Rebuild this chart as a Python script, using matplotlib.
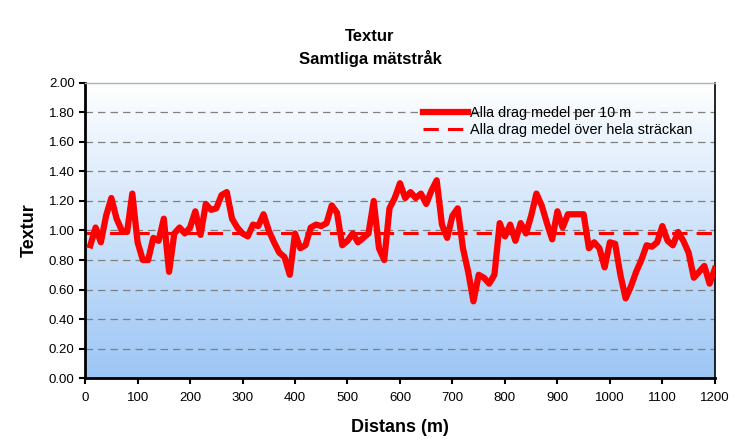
import numpy as np
import matplotlib
matplotlib.use("Agg")
import matplotlib.pyplot as plt
from matplotlib.colors import LinearSegmentedColormap

plt.rcParams["font.family"] = ["Liberation Sans", "DejaVu Sans"]

# Distans (m), every 10 m
distans = list(range(10, 1210, 10))
textur = [
    0.90, 1.02, 0.92, 1.10, 1.22, 1.08, 1.00, 0.99, 1.25, 0.92,
    0.80, 0.80, 0.95, 0.93, 1.08, 0.72, 0.98, 1.02, 0.98, 1.02,
    1.13, 0.97, 1.18, 1.14, 1.15, 1.24, 1.26, 1.08, 1.02, 0.98,
    0.96, 1.04, 1.03, 1.11, 1.00, 0.92, 0.85, 0.82, 0.70, 0.98,
    0.88, 0.90, 1.02, 1.04, 1.03, 1.05, 1.17, 1.12, 0.90, 0.93,
    0.98, 0.92, 0.95, 0.98, 1.20, 0.88, 0.80, 1.15, 1.22, 1.32,
    1.22, 1.26, 1.22, 1.25, 1.18, 1.27, 1.34, 1.04, 0.95, 1.10,
    1.15, 0.88, 0.72, 0.52, 0.70, 0.68, 0.64, 0.70, 1.05, 0.96,
    1.04, 0.93, 1.05, 0.98, 1.10, 1.25, 1.17, 1.05, 0.94, 1.13,
    1.02, 1.11, 1.11, 1.11, 1.11, 0.88, 0.92, 0.88, 0.75, 0.92,
    0.91, 0.70, 0.54, 0.62, 0.72, 0.80, 0.90, 0.89, 0.92, 1.03,
    0.93, 0.90, 0.99, 0.93, 0.85, 0.68, 0.72, 0.76, 0.64, 0.74,
]
medel_hela = 0.98

y_ticks = [0.0, 0.2, 0.4, 0.6, 0.8, 1.0, 1.2, 1.4, 1.6, 1.8, 2.0]
x_ticks = list(range(0, 1300, 100))

fig = plt.figure(figsize=(7.4, 4.48), dpi=100)
ax = fig.add_axes([0.115, 0.156, 0.851, 0.659])

# gradient background, white at top to light blue at bottom
cmap = LinearSegmentedColormap.from_list("bg", ["#9cc6f5", "#ffffff"])
grad = np.linspace(0, 1, 256).reshape(-1, 1)
ax.imshow(grad, cmap=cmap, aspect="auto", origin="lower",
          extent=[0, 1200, 0, 2.0], zorder=0)

for y in y_ticks[1:-1]:
    ax.axhline(y, color="#808080", lw=0.9, ls=(0, (6, 4)), zorder=1)

ax.plot(distans, textur, color="#ff0000", lw=4.5, solid_joinstyle="round",
        zorder=3, label="Alla drag medel per 10 m")
ax.axhline(medel_hela, color="#ff0000", lw=2.2, ls=(0, (5, 3)), zorder=2,
           label="Alla drag medel över hela sträckan")

ax.set_xlim(0, 1200)
ax.set_ylim(0, 2.0)
ax.set_xticks(x_ticks)
ax.set_yticks(y_ticks)
ax.set_yticklabels([f"{v:.2f}" for v in y_ticks])
ax.tick_params(axis="both", direction="out", length=4, width=1.5,
               labelsize=9.5, colors="black")
ax.tick_params(axis="x", pad=6)

for side in ["left", "bottom"]:
    ax.spines[side].set_linewidth(2)
ax.spines["right"].set_linewidth(1.2)
ax.spines["top"].set_linewidth(1.0)
ax.spines["top"].set_color("#b0b0b0")

ax.set_xlabel("Distans (m)", fontsize=13, fontweight="bold", labelpad=11)
ax.set_ylabel("Textur", fontsize=13, fontweight="bold", labelpad=8)
fig.suptitle("Textur\nSamtliga mätstråk", fontsize=12, fontweight="bold",
             y=0.935, linespacing=1.45)

leg = ax.legend(loc="upper right", bbox_to_anchor=(0.965, 0.92), frameon=False,
                fontsize=10.4, handlelength=3.1, handletextpad=0.2,
                labelspacing=0.15, borderaxespad=0, borderpad=0)

fig.savefig("out.png", dpi=100)
